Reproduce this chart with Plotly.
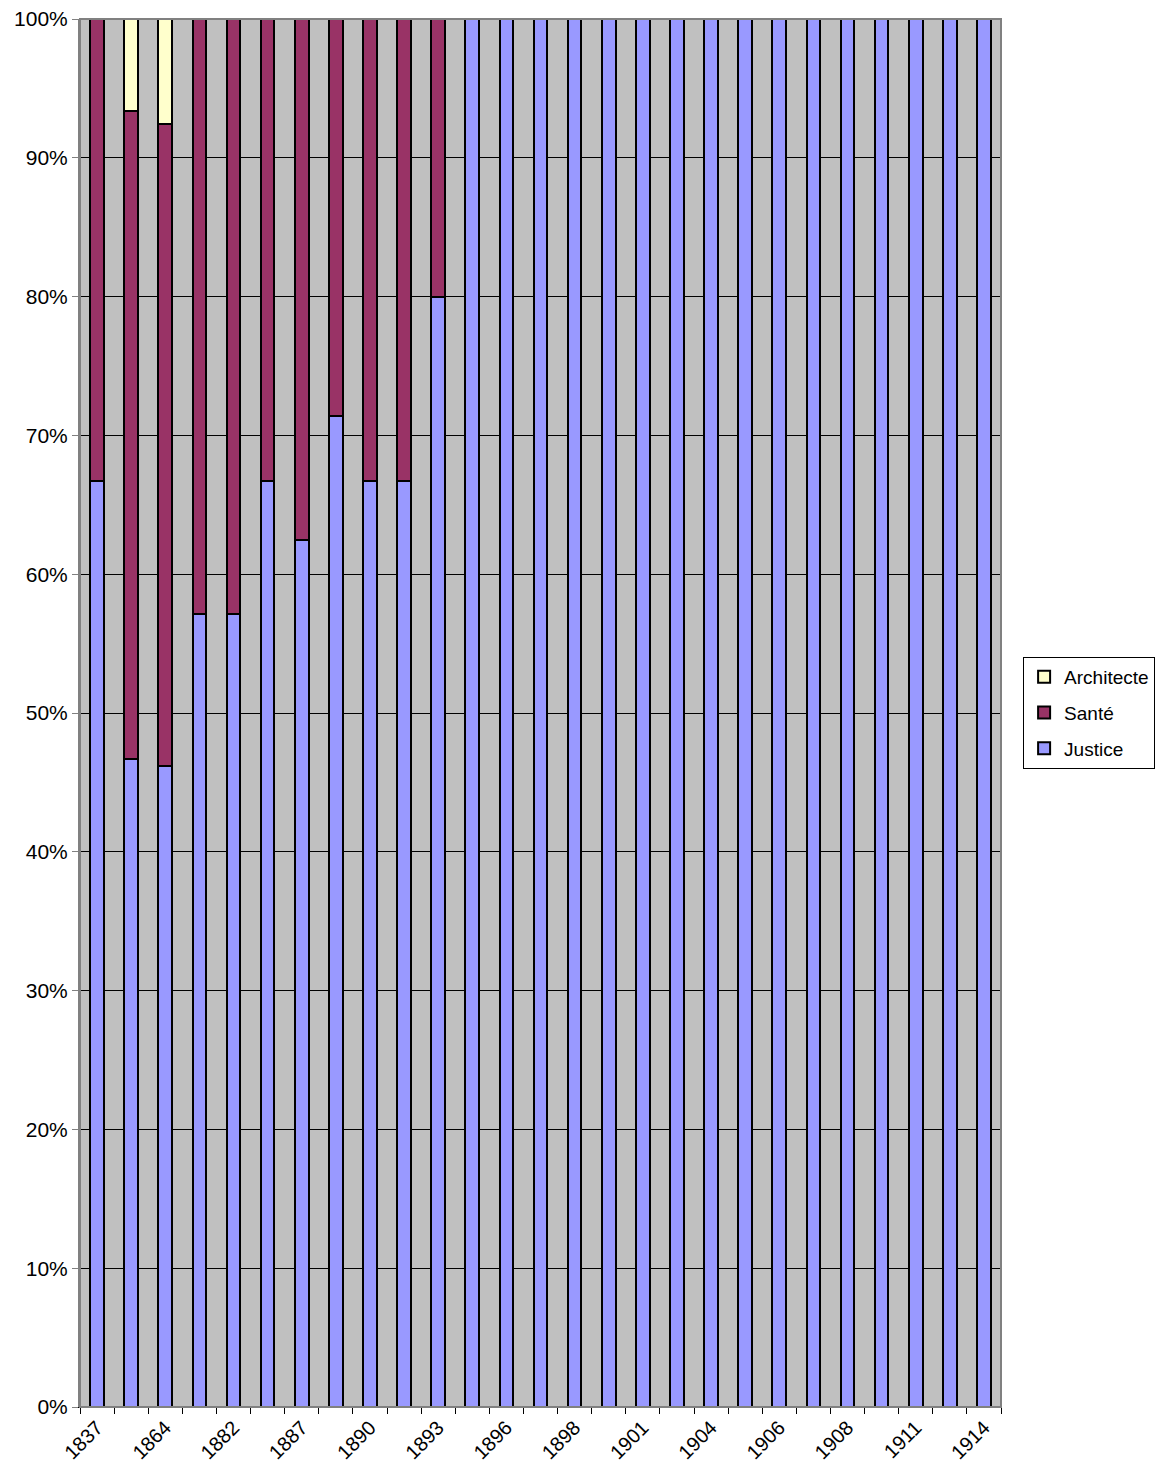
import plotly.graph_objects as go

categories = ["1837", "1850", "1864", "1875", "1882", "1885", "1887", "1888", "1890",
              "1891", "1893", "1895", "1896", "1897", "1898", "1900", "1901", "1903",
              "1904", "1905", "1906", "1907", "1908", "1910", "1911", "1913", "1914"]
shown_labels = ["1837", "1864", "1882", "1887", "1890", "1893", "1896", "1898",
                "1901", "1904", "1906", "1908", "1911", "1914"]

justice = [66.7, 46.7, 46.2, 57.1, 57.1, 66.7, 62.5, 71.4, 66.7, 66.7, 80.0] + [100.0] * 16
sante = [33.3, 46.7, 46.2, 42.9, 42.9, 33.3, 37.5, 28.6, 33.3, 33.3, 20.0] + [0.0] * 16
architecte = [0.0, 6.6, 7.6] + [0.0] * 24

series = [("Justice", justice, "#9999FF", 3),
          ("Santé", sante, "#993366", 2),
          ("Architecte", architecte, "#FFFFCC", 1)]

FONT = "Liberation Sans, Arial, sans-serif"

fig = go.Figure()
for name, vals, color, rank in series:
    fig.add_trace(go.Bar(
        x=categories, y=vals, name=name, width=0.4, legendgroup=name,
        legendrank=rank,
        marker=dict(color=color, line=dict(color="black", width=2)),
    ))

ticktext = [c if c in shown_labels else "" for c in categories]

fig.update_layout(
    width=1162, height=1468,
    barmode="stack",
    paper_bgcolor="white",
    plot_bgcolor="#C0C0C0",
    margin=dict(l=80, r=161, t=19, b=61, pad=0, autoexpand=False),
    font=dict(family=FONT, size=20, color="black"),
    showlegend=True,
    legend=dict(
        x=1.024, xanchor="left", y=0.5, yanchor="middle",
        traceorder="grouped", tracegroupgap=8,
        bordercolor="black", borderwidth=1, bgcolor="white",
        font=dict(family=FONT, size=19),
        itemwidth=30,
    ),
    xaxis=dict(
        type="category", automargin=False,
        tickmode="array", tickvals=categories, ticktext=ticktext,
        tickson="boundaries", ticks="outside", ticklen=6, tickcolor="black",
        tickangle=-45, tickfont=dict(family=FONT, size=20),
        showline=True, linecolor="black", linewidth=1,
        showgrid=False, range=[-0.5, len(categories) - 0.5],
    ),
    yaxis=dict(
        range=[0, 100], tickvals=list(range(0, 101, 10)), automargin=False,
        ticktext=[f"{v}%" for v in range(0, 101, 10)],
        ticks="outside", ticklen=6, tickcolor="#808080",
        showgrid=True, gridcolor="black", gridwidth=1,
        showline=True, linecolor="#808080", linewidth=2,
        zeroline=False, tickfont=dict(family=FONT, size=21),
    ),
)
fig.add_shape(type="rect", xref="paper", yref="paper", x0=0, x1=1, y0=0, y1=1,
              line=dict(color="#808080", width=2), layer="above")

fig.write_html("out.html",
               config={"displayModeBar": False},
               post_script="document.body.style.margin='0';document.body.style.overflow='hidden';")
